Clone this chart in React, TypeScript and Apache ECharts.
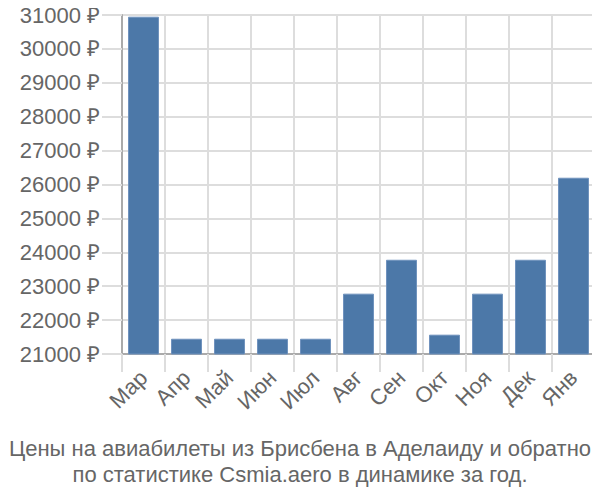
import React, { useEffect, useRef } from "react";
import * as echarts from "echarts";

const categories = ["Мар", "Апр", "Май", "Июн", "Июл", "Авг", "Сен", "Окт", "Ноя", "Дек", "Янв"];
const prices = [30950, 21450, 21450, 21450, 21450, 22780, 23780, 21570, 22780, 23780, 26200];
const titleLines = [
  "Цены на авиабилеты из Брисбена в Аделаиду и обратно",
  "по статистике Csmia.aero в динамике за год.",
];

export default function App() {
  const ref = useRef<HTMLDivElement>(null);
  useEffect(() => {
    if (!ref.current) return;
    const chart = echarts.init(ref.current, null, { renderer: "svg" });
    chart.setOption({
      animation: false,
      title: {
        text: titleLines.join("\n"),
        left: "center",
        top: 430,
        textStyle: {
          fontFamily: "Liberation Sans",
          fontSize: 22,
          fontWeight: "normal",
          color: "#666",
          lineHeight: 26,
        },
      },
      grid: { left: 122, right: 5, top: 15, bottom: 146 },
      xAxis: {
        type: "category",
        data: categories,
        axisLine: { lineStyle: { color: "#aaa", width: 2 } },
        axisTick: { show: true, length: 18, lineStyle: { color: "#ddd", width: 2 } },
        splitLine: { show: true, lineStyle: { color: "#ddd", width: 2 } },
        axisLabel: {
          rotate: 45,
          fontFamily: "Liberation Sans",
          fontSize: 22,
          color: "#666",
          margin: 20,
        },
      },
      yAxis: {
        type: "value",
        min: 21000,
        max: 31000,
        interval: 1000,
        axisLine: { show: true, lineStyle: { color: "#aaa", width: 2 } },
        axisTick: { show: true, length: 20, lineStyle: { color: "#ddd", width: 2 } },
        splitLine: { show: true, lineStyle: { color: "#ddd", width: 2 } },
        axisLabel: {
          formatter: (v: number) => `${v} ₽`,
          fontFamily: "Liberation Sans",
          fontSize: 22,
          color: "#666",
          margin: 22,
        },
      },
      series: [
        {
          type: "bar",
          data: prices,
          barCategoryGap: "28%",
          itemStyle: { color: "#4c78a8", borderColor: "#6f92bd", borderWidth: 1 },
        },
      ],
    });
    return () => chart.dispose();
  }, []);
  return <div ref={ref} style={{ width: 600, height: 500, marginLeft: -8, marginTop: -8 }} />;
}
